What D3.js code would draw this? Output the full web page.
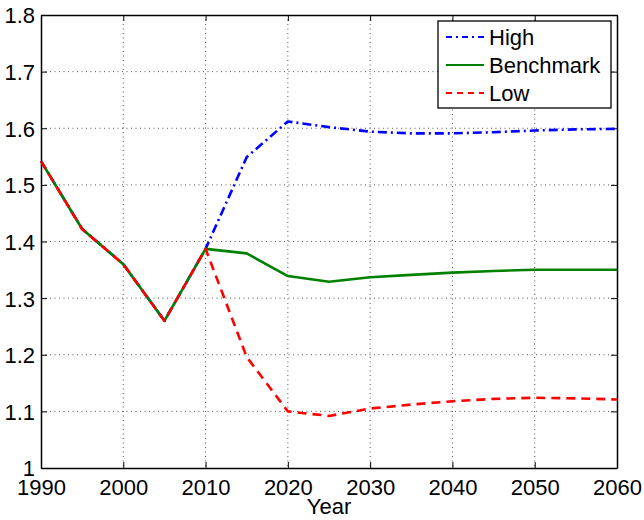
<!DOCTYPE html>
<html><head><meta charset="utf-8">
<script src="https://cdn.jsdelivr.net/npm/d3@7"></script>
<style>body{margin:0;background:#fff}svg{display:block;font-family:"Liberation Sans",Arial,sans-serif}</style>
</head><body>
<svg id="c" width="644" height="520"></svg>
<script>
const years = [1990,1995,2000,2005,2010,2015,2020,2025,2030,2035,2040,2045,2050,2055,2060];
const high = [1.542,1.422,1.360,1.260,1.387,1.549,1.612,1.602,1.594,1.591,1.591,1.593,1.596,1.598,1.599];
const benchmark = [1.542,1.422,1.360,1.260,1.387,1.379,1.339,1.329,1.337,1.341,1.345,1.348,1.350,1.350,1.350];
const low = [1.542,1.422,1.360,1.260,1.387,1.196,1.100,1.092,1.105,1.112,1.118,1.122,1.124,1.123,1.121];
const xTicks = [1990,2000,2010,2020,2030,2040,2050,2060];
const yTicks = [1,1.1,1.2,1.3,1.4,1.5,1.6,1.7,1.8];
const seriesNames = ["High","Benchmark","Low"];
const xLabel = "Year";

const svg = d3.select("#c");
const L=41,R=617,T=15,B=468;
const FS = 22;
const x = d3.scaleLinear().domain([1990,2060]).range([L,R]);
const y = d3.scaleLinear().domain([1,1.8]).range([B,T]);

// grid
const g = svg.append("g");
g.selectAll(".gx").data(xTicks.slice(1,-1)).enter().append("line")
  .attr("x1",d=>x(d)).attr("x2",d=>x(d)).attr("y1",T).attr("y2",B)
  .attr("stroke","#555").attr("stroke-width",1).attr("stroke-dasharray","1,3.5");
g.selectAll(".gy").data(yTicks.slice(1,-1)).enter().append("line")
  .attr("y1",d=>y(d)).attr("y2",d=>y(d)).attr("x1",L).attr("x2",R)
  .attr("stroke","#555").attr("stroke-width",1).attr("stroke-dasharray","1,3.5");

// axes
const fmtY = d=> d===1 ? "1" : d3.format(".1f")(d);
const ax = svg.append("g").attr("transform",`translate(0,${B})`)
  .call(d3.axisBottom(x).tickValues(xTicks).tickFormat(d3.format("d")).tickSizeInner(-6).tickSizeOuter(0));
const ay = svg.append("g").attr("transform",`translate(${L},0)`)
  .call(d3.axisLeft(y).tickValues(yTicks).tickFormat(fmtY).tickSizeInner(-6).tickSizeOuter(0).tickPadding(6));
const axT = svg.append("g").attr("transform",`translate(0,${T})`)
  .call(d3.axisTop(x).tickValues(xTicks).tickFormat("").tickSizeInner(-6).tickSizeOuter(0));
const ayR = svg.append("g").attr("transform",`translate(${R},0)`)
  .call(d3.axisRight(y).tickValues(yTicks).tickFormat("").tickSizeInner(-6).tickSizeOuter(0));
[ax,ay,axT,ayR].forEach(a=>{
  a.selectAll("path").attr("stroke","#000").attr("stroke-width",1.5);
  a.selectAll("line").attr("stroke","#000").attr("stroke-width",1);
  a.selectAll("text").attr("fill","#000").attr("font-size",FS).attr("font-family","Liberation Sans, Arial, sans-serif");
});
ay.selectAll("text").attr("x",-6).attr("dy","0.36em");
ax.selectAll("text").attr("y",27).attr("dy",0);

svg.append("text").attr("x",(L+R)/2).attr("y",514).attr("text-anchor","middle")
  .attr("font-size",FS).text(xLabel);

// lines
const line = d3.line().x((d,i)=>x(years[i])).y(d=>y(d));
const styles = [
  {data:high,color:"#0000ff",dash:"9,4,2,4"},
  {data:benchmark,color:"#008000",dash:null},
  {data:low,color:"#ff0000",dash:"9,6"}
];
styles.forEach(s=>{
  const p = svg.append("path").datum(s.data).attr("d",line)
    .attr("fill","none").attr("stroke",s.color).attr("stroke-width",2.6)
    .attr("stroke-linejoin","round");
  if(s.dash) p.attr("stroke-dasharray",s.dash);
});

// legend
const lg = svg.append("g");
lg.append("rect").attr("x",438).attr("y",21).attr("width",173).attr("height",87)
  .attr("fill","#fff").attr("stroke","#000").attr("stroke-width",1.3);
const legDash = ["6,4,2,4",null,"6,5"];
seriesNames.forEach((n,i)=>{
  const yy = 37 + i*28;
  const l = lg.append("line").attr("x1",446).attr("x2",484).attr("y1",yy).attr("y2",yy)
    .attr("stroke",styles[i].color).attr("stroke-width",2);
  if(legDash[i]) l.attr("stroke-dasharray",legDash[i]);
  lg.append("text").attr("x",489).attr("y",yy).attr("dy","0.36em").attr("font-size",FS).text(n);
});
</script>
</body></html>
